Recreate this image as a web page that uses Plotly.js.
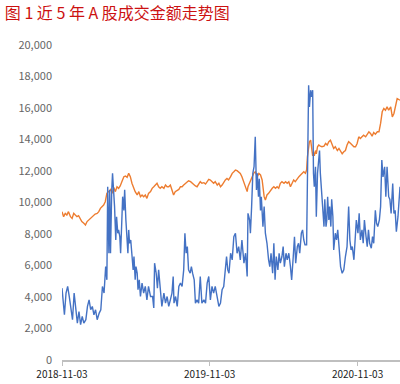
<!DOCTYPE html>
<html>
<head>
<meta charset="utf-8">
<script src="https://cdn.plot.ly/plotly-3.0.1.min.js"></script>
<style>html,body{margin:0;padding:0;background:#fff;}#chart{width:400px;height:384px;}</style>
</head>
<body>
<div id="chart"></div>
<script>
// Base date and day offsets
const baseDate = '2018-11-03';
const xTickLabels = ['2018-11-03', '2019-11-03', '2020-11-03'];
const yTickValues = [0, 2000, 4000, 6000, 8000, 10000, 12000, 14000, 16000, 18000, 20000];

// Blue series (成交金额)
const blueDay = [0,2,6,10,14,18,22,26,30,34,38,42,46,50,54,59,63,67,71,75,79,83,87,92,96,100,104,108,111,113,116,118,120,123,125,128,130,133,135,138,140,143,145,148,150,153,155,158,160,163,165,167,170,173,176,178,181,183,186,188,191,194,198,202,206,210,214,219,224,
227,229,233,236,239,243,247,252,256,260,264,268,272,275,277,281,285,289,293,297,301,304,307,310,313,317,320,323,327,330,334,338,342,346,351,355,359,363,367,371,375,379,384,388,392,396,400,404,407,410,413,417,421,425,429,433,437,441,445,450,454,458,
460,464,466,469,472,475,478,481,483,486,488,491,493,497,500,503,507,511,514,517,521,524,527,530,534,537,540,544,547,550,554,557,561,565,568,572,575,578,582,585,588,592,595,598,601,605,
607,610,612,615,617,620,622,624,627,629,632,634,637,639,642,645,648,650,653,655,657,660,662,665,667,670,672,676,679,682,686,689,693,697,701,705,709,712,715,718,722,725,728,732,735,738,742,745,748,752,755,758,761,765,768,771,775,778,781,785,788,791,794,798,801,804,808,811,814,818,821,824,827,831,834,836];
const blueValue = [4560,3800,2870,4250,4670,4030,3400,2560,4250,3190,2340,3080,2240,2770,2340,2560,3400,3820,3190,3400,2870,3190,2560,2980,3190,4670,4250,5930,5090,11000,6780,10800,6780,10800,11850,10580,9740,7620,9100,8050,8260,7830,6780,8890,10370,9500,10800,8890,7620,6780,8260,7410,7620,6570,5720,6570,5090,5930,5510,4460,5090,4030,4880,4250,4670,3820,4670,4030,4030,
3300,6150,5510,4560,5720,4250,3400,4250,3610,4030,3400,3820,4250,5300,3610,4030,3400,4670,4880,4670,5720,8050,6780,7200,5720,5510,5930,5510,5090,3610,3820,3610,5300,3610,3820,3610,4880,5300,3820,4670,4250,4670,4030,3400,3610,4460,4670,5930,6570,5720,5510,6780,6360,7830,8050,6780,7200,6360,7620,6150,6780,5300,
9310,8890,8050,9740,11850,12270,14170,10800,11850,10370,11510,9500,10370,8470,9740,8050,7410,6360,5930,6780,5510,7410,5090,6570,5720,6780,6150,6570,7200,5930,6780,6360,6780,5930,5090,6570,7830,6150,7200,7410,6780,8050,8260,7620,7310,7310,
10370,17450,16070,17130,16700,17130,11850,11000,12270,9100,11850,12690,13300,11850,10800,9310,8470,10200,8470,8890,10370,8890,9740,8470,10200,9100,6990,8050,7620,8260,7200,5930,5510,5720,6570,7200,9740,7620,6990,7200,6360,7830,8890,8050,9310,7620,8260,7410,8890,7830,7200,8260,7410,7100,7830,7410,9500,8680,8470,8890,9740,12690,11620,12270,10370,12270,10370,10200,9310,11200,9310,9500,8150,9100,10200,11000];

// Orange series
const orangeDay = [0,4,8,12,16,21,25,29,33,37,41,45,49,54,58,62,66,70,74,78,82,87,91,95,99,103,107,111,115,120,124,128,132,136,140,144,148,153,157,161,165,169,173,177,181,186,190,194,198,202,206,210,214,219,223,227,231,235,239,243,247,252,256,260,264,268,272,276,280,285,289,293,297,301,305,309,313,318,322,326,330,334,338,342,346,351,355,359,363,367,371,375,379,384,388,392,396,400,404,408,412,417,421,425,429,433,437,441,445,450,454,458,
460,464,466,470,474,478,483,487,491,495,497,500,503,507,511,516,520,524,528,532,536,540,544,549,553,557,561,565,569,573,577,582,586,590,594,598,602,605,607,610,612,615,617,620,622,624,627,629,632,635,
639,643,648,652,656,660,664,668,672,676,681,685,689,693,697,701,705,709,714,718,722,726,730,734,738,742,746,751,755,759,763,767,771,775,780,784,788,792,796,800,804,808,813,817,821,825,829,833,836];
const orangeValue = [9420,9100,9310,9200,9420,9100,8990,9310,9200,9100,9160,8990,8790,8680,8570,8790,8890,8990,9100,9140,9270,9310,9420,9630,9740,9840,10050,10580,10690,10830,10580,10960,10690,11000,10900,11050,11320,11640,11680,11600,11850,11640,11220,10900,10690,10480,10690,10370,10480,10370,10480,10260,10580,10690,10900,11000,11110,11220,11000,10900,11000,10900,11110,11000,11000,11110,10790,10480,10690,10790,10830,11000,11000,11110,11220,11320,11380,11320,11220,11110,11050,11000,11170,11320,11220,11260,11170,11320,11470,11430,11320,11220,11320,11110,11220,11000,11110,11320,11430,11530,11430,11640,11850,11950,12060,12020,11950,11850,11640,11220,11000,10690,
11000,11220,11430,11640,11850,11950,11640,11850,11750,11430,10900,10370,10160,10480,10580,10790,10900,11000,10900,11000,10900,11220,11320,11220,11320,11220,11320,11000,11220,11430,11320,11530,11640,11750,11850,11950,11850,12060,12900,13540,13860,13960,13650,12960,13180,12960,13300,13090,13540,13650,
13580,13540,13580,13750,13650,13860,13960,13650,13430,13540,13300,13430,13220,13090,13220,13300,13650,13860,13750,13650,13540,13540,13750,14170,14060,14170,14270,14170,14380,14490,14380,14210,14440,14340,14490,14490,15020,15760,15970,15860,16070,15860,16070,15440,15650,16070,16600,16540,16490];

const DAY = 86400000;
const t0 = Date.parse(baseDate + 'T00:00:00Z');
function toDate(d) { return new Date(t0 + d * DAY).toISOString().slice(0, 10); }

const font = 'Noto Sans CJK SC, Noto Sans, sans-serif';

const traces = [
  {
    x: orangeDay.map(toDate), y: orangeValue, type: 'scatter', mode: 'lines',
    line: {color: '#ed7d31', width: 1.4}, hoverinfo: 'skip'
  },
  {
    x: blueDay.map(toDate), y: blueValue, type: 'scatter', mode: 'lines',
    line: {color: '#4472c4', width: 1.4}, hoverinfo: 'skip'
  }
];

const layout = {
  width: 400, height: 384,
  margin: {l: 62, r: 0, t: 45, b: 24, pad: 0},
  paper_bgcolor: '#ffffff', plot_bgcolor: '#ffffff',
  showlegend: false,
  font: {family: font},
  title: {
    text: '图 1 近 5 年 A 股成交金额走势图',
    font: {family: font, size: 16, color: '#cc1111'},
    xref: 'container', yref: 'container',
    x: 0.012, xanchor: 'left', y: 0.98, yanchor: 'top'
  },
  xaxis: {
    type: 'date',
    range: [toDate(0), toDate(836)],
    tickvals: xTickLabels, ticktext: xTickLabels,
    ticks: 'outside', ticklen: 4, tickcolor: '#bfbfbf', tickwidth: 1,
    showline: true, linecolor: '#bfbfbf', linewidth: 1.5,
    showgrid: false, zeroline: false,
    tickfont: {family: font, size: 10, color: '#222222'}
  },
  yaxis: {
    range: [0, 20000],
    tickvals: yTickValues, tickformat: ',',
    ticks: '', showline: false, showgrid: false, zeroline: false,
    ticklabelstandoff: 9,
    tickfont: {family: font, size: 11, color: '#666666'}
  }
};

Plotly.newPlot('chart', traces, layout, {displayModeBar: false, staticPlot: true});
</script>
</body>
</html>
